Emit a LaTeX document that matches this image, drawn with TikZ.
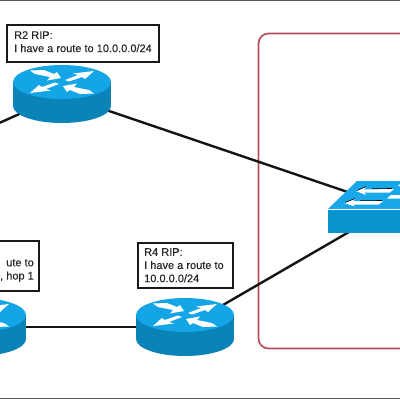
\documentclass[tikz,border=0pt]{standalone}
\usepackage{fontspec}
\setmainfont{Liberation Sans}
\newfontfamily\lblfont{Liberation Sans}[FakeBold=0.2]
\definecolor{rtop}{HTML}{13A5E6}
\definecolor{rside}{HTML}{0A84B8}
\definecolor{stop}{HTML}{18A8EA}
\definecolor{sside}{HTML}{0C94CF}
\definecolor{redbox}{HTML}{B4505A}
\definecolor{edge}{HTML}{555555}
\tikzset{
  x=1pt,y=-1pt,
  link/.style={line width=2.4pt,black!92},
  labelbox/.style={draw=black!90,line width=1.7pt,fill=white,minimum width=0pt,inner sep=0pt},
  labeltext/.style={font=\lblfont\fontsize{11}{13.2}\selectfont,align=left,anchor=north west,inner sep=0pt,text=black!85},
  anchorpt/.style={inner sep=0pt,minimum size=0pt},
  whitearrow/.style={fill=white,draw=none},
  pics/router/.style={code={
    \fill[rside] (0,24) ellipse[x radius=49,y radius=17];
    \fill[rside] (-49,0) rectangle (49,24);
    \fill[rtop] (0,0) ellipse[x radius=49,y radius=17];
    \foreach \s/\t in {1/1,-1/-1}{
      \begin{scope}[xscale=\s,yscale=\t]
      % outward arrow
      \fill[whitearrow] (3,-2) -- (16,-7) -- (11,-8.5) -- (32,-11) -- (23,-3) -- (20,-5) -- (7,-0.5) -- cycle;
      % inward arrow
      \fill[whitearrow] (-1,-4) -- (-15,-1.5) -- (-12,-5) -- (-27,-8) -- (-32,-11.5) -- (-18,-12) -- (-8,-8) -- (-5,-10) -- cycle;
      \end{scope}
    }
  }}
}
\begin{document}
\begin{tikzpicture}
\useasboundingbox (0,0) rectangle (400,400);
\clip (0,0) rectangle (400,400);
\fill[white] (0,0) rectangle (400,400);
% frame lines
\draw[edge,line width=1.4pt] (0,0.6) -- (400,0.6);
\draw[edge,line width=1.4pt] (0,398.6) -- (400,398.6);
% named anchors
\node[anchorpt] (r2) at (62,95) {};
\node[anchorpt] (r3) at (-23,327) {};
\node[anchorpt] (r4) at (185,327) {};
\node[anchorpt] (swa) at (380,203) {};
\node[anchorpt] (swb) at (380,214) {};
\coordinate (off) at (-12,128);
% red zone
\draw[redbox,line width=1.7pt,rounded corners=10pt] (430,33.5) -- (258.5,33.5) -- (258.5,348.5) -- (430,348.5);
% links
\draw[link] (r2) -- (off);
\draw[link] (r2) -- (swa);
\draw[link] (r3) -- (r4);
\draw[link] (r4) -- (swb);
% routers
\pic at (62,82) {router};
\pic at (-23,315) {router};
\pic at (185,315) {router};
% switch
\fill[sside] (328,209) rectangle (410,233);
\fill[stop] (328,209) -- (357,181) -- (410,181) -- (410,209) -- cycle;
\draw[white,line width=0.5pt] (328,209) -- (410,209);
\fill[white] (356,191) -- (366,187) -- (364,189.5) -- (394,189) -- (390,192.5) -- (364,192.5) -- (366,195) -- cycle;
\fill[white] (344,203) -- (355,199) -- (353,201) -- (383,201) -- (379,204.5) -- (353,204.5) -- (355,206.5) -- cycle;
\fill[white] (387,198.5) -- (391,195) -- (410,195) -- (410,198.5) -- cycle;
\fill[white] (398,186) -- (401,183) -- (410,183) -- (410,186) -- cycle;
\draw[black,line width=0.6pt] (357,190.5) -- (366,186.5) (372,188.7) -- (392,188.5);
\draw[black,line width=0.6pt] (345,202.5) -- (355,198.5) (360,200.7) -- (382,200.5);
% labels
\node[labelbox,minimum width=152pt,minimum height=37pt,anchor=north west] (b2) at (6,24) {};
\node[labeltext] (t2) at (14,31) {R2 RIP:\\I have a route to 10.0.0.0/24};
\node[labelbox,minimum width=95pt,minimum height=45pt,anchor=north west] (b4) at (137,242) {};
\node[labeltext] (t4) at (144,248) {R4 RIP:\\I have a route to\\10.0.0.0/24};
\node[labelbox,minimum width=60pt,minimum height=50pt,anchor=north east] (b3) at (40,240) {};
\node[labeltext,align=right,anchor=north east] (t3) at (34,259) {ute to\\, hop 1};
\end{tikzpicture}
\end{document}
